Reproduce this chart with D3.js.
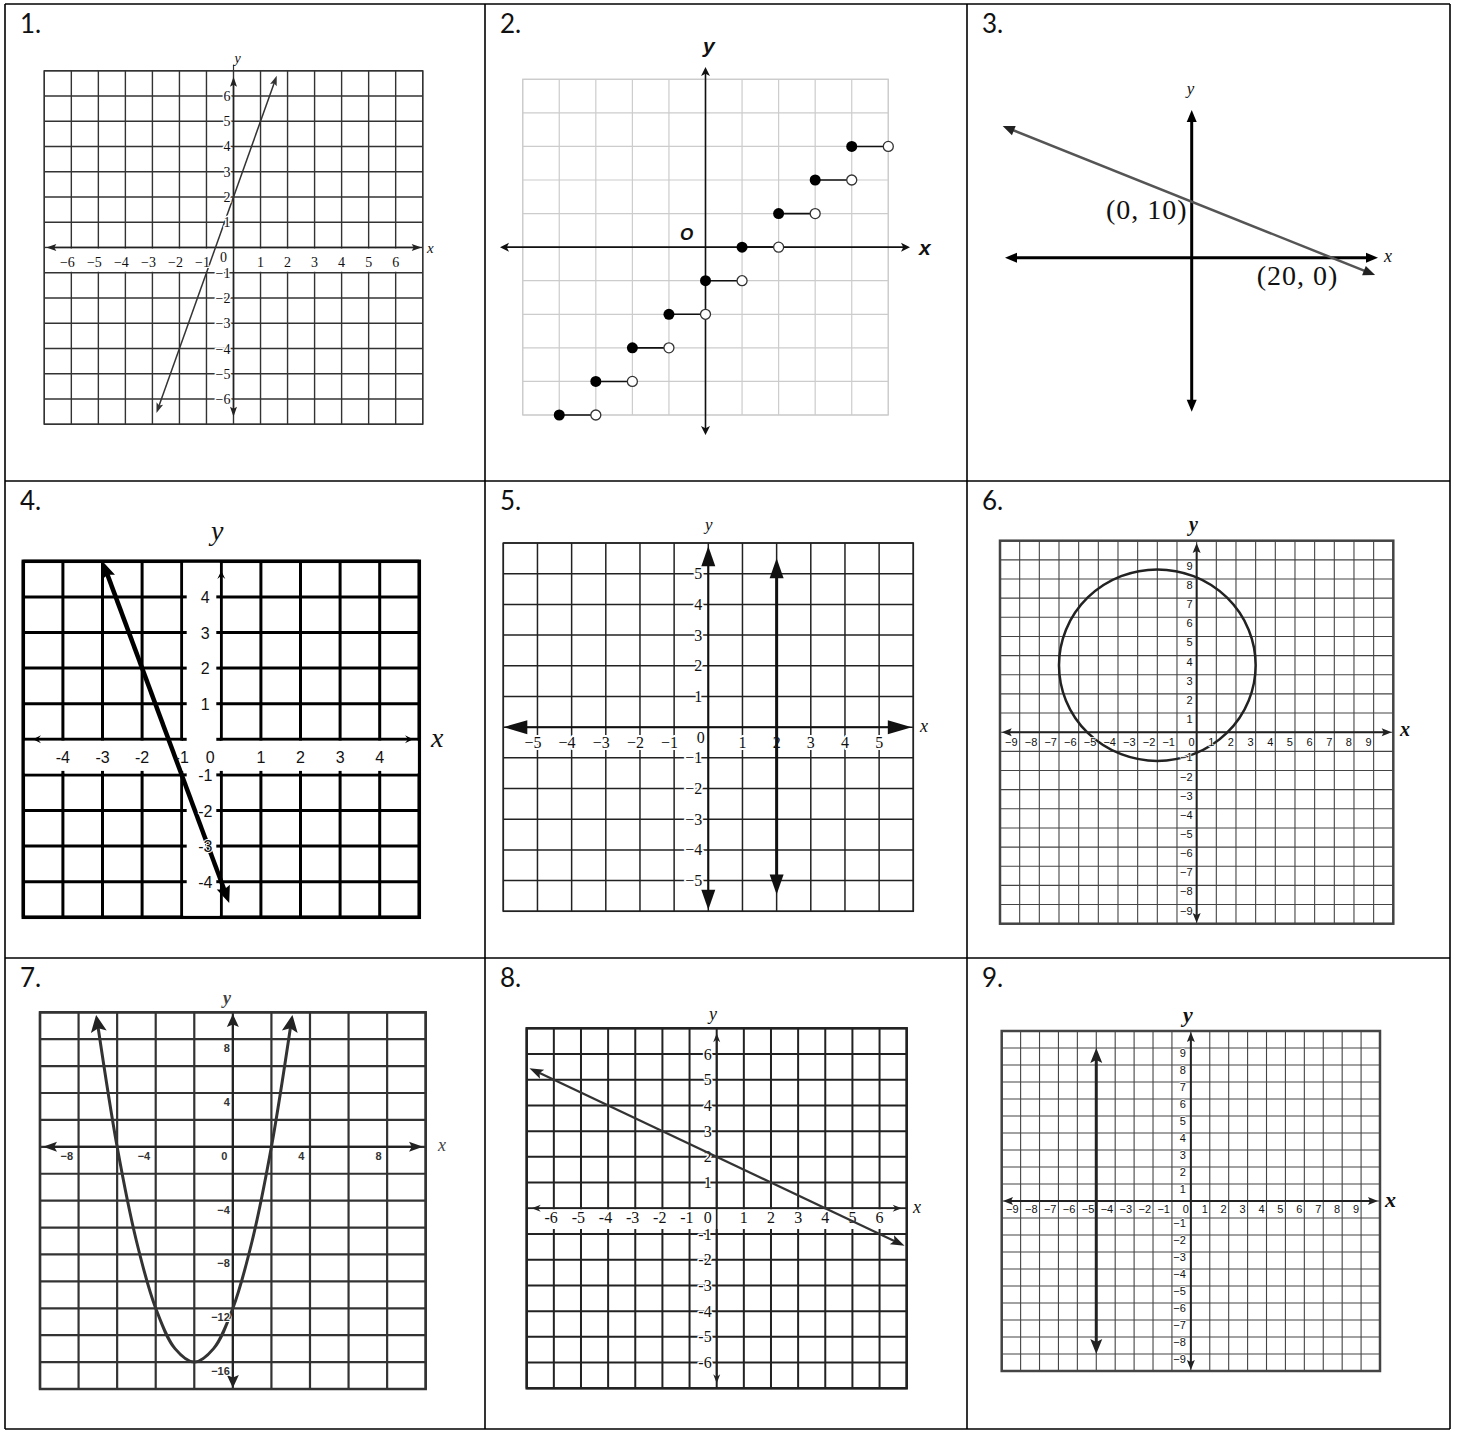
<!DOCTYPE html>
<html>
<head>
<meta charset="utf-8">
<script src="https://cdn.jsdelivr.net/npm/d3@7"></script>
<style>
  body { margin: 0; background: #fff; }
</style>
</head>
<body>
<div id="chart"></div>
<script>
// ---------- data read off the worksheet ----------
// 1. straight line y = 3x + 2
var p1XLabels = [-6, -5, -4, -3, -2, -1, 1, 2, 3, 4, 5, 6];
var p1YLabels = [6, 5, 4, 3, 2, 1, -1, -2, -3, -4, -5, -6];
var p1LineX = [-2.85, 1.6];
var p1LineY = [-6.55, 6.8];

// 2. step function: filled dot at the left, open dot at the right
var p2StepX = [-4, -3, -2, -1, 0, 1, 2, 3, 4];
var p2StepY = [-5, -4, -3, -2, -1, 0, 1, 2, 3];

// 3. line through the two intercepts
var p3LineX = [-27, 26.2];
var p3LineY = [23.5, -3.1];
var p3PointX = [0, 20];
var p3PointY = [10, 0];
var p3PointLabels = ["(0, 10)", "(20, 0)"];

// 4. steep line
var p4XLabels = [-4, -3, -2, -1, 1, 2, 3, 4];
var p4YLabels = [4, 3, 2, 1, -1, -2, -3, -4];
var p4LineX = [-3, 0.2];
var p4LineY = [5, -4.6];

// 5. vertical line x = 2
var p5XLabels = [-5, -4, -3, -2, -1, 1, 2, 3, 4, 5];
var p5YLabels = [5, 4, 3, 2, 1, -1, -2, -3, -4, -5];
var p5LineX = [2, 2];
var p5LineY = [5.5, -5.45];

// 6. circle
var p6XLabels = [-9, -8, -7, -6, -5, -4, -3, -2, -1, 0, 1, 2, 3, 4, 5, 6, 7, 8, 9];
var p6YLabels = [9, 8, 7, 6, 5, 4, 3, 2, 1, -1, -2, -3, -4, -5, -6, -7, -8, -9];
var p6Center = [-2, 3.5];
var p6Radius = [5];

// 7. parabola
var p7XLabels = [-8, -4, 0, 4, 8];
var p7YLabels = [8, 4, -4, -8, -12, -16];
var p7CurveX = [-7, -6, -5, -4, -3, -2, -1, 0, 1, 2, 3];
var p7CurveY = [9, 0, -7, -12, -15, -16, -15, -12, -7, 0, 9];

// 8. line y = -x/2 + 2
var p8XLabels = [-6, -5, -4, -3, -2, -1, 1, 2, 3, 4, 5, 6];
var p8YLabels = [6, 5, 4, 3, 2, 1, -1, -2, -3, -4, -5, -6];
var p8LineX = [-6.9, 6.92];
var p8LineY = [5.45, -1.46];

// 9. vertical line x = -5
var p9XLabels = [-9, -8, -7, -6, -5, -4, -3, -2, -1, 0, 1, 2, 3, 4, 5, 6, 7, 8, 9];
var p9YLabels = [9, 8, 7, 6, 5, 4, 3, 2, 1, -1, -2, -3, -4, -5, -6, -7, -8, -9];
var p9LineX = [-5, -5];
var p9LineY = [9, -9];

var panelNames = ["1.", "2.", "3.", "4.", "5.", "6.", "7.", "8.", "9."];

// ---------- page ----------
var width = 1457, height = 1432;
var serif = "'Liberation Serif','Times New Roman',serif";
var sans = "'Liberation Sans',Arial,sans-serif";
var minus = function(d) { return d < 0 ? "\u2212" + (-d) : String(d); };
var hyphen = function(d) { return String(d); };

var svg = d3.select("#chart").append("svg")
  .attr("width", width)
  .attr("height", height);

svg.append("rect").attr("width", width).attr("height", height).attr("fill", "#fff");

// table around the nine problems
var colX = [5, 485, 967, 1450];
var rowY = [4, 481, 958, 1429];
var table = svg.append("g").attr("stroke", "#000").attr("stroke-width", 1.6);
colX.forEach(function(cx) {
  table.append("line").attr("x1", cx).attr("x2", cx).attr("y1", rowY[0]).attr("y2", rowY[3]);
});
rowY.forEach(function(ry) {
  table.append("line").attr("x1", colX[0]).attr("x2", colX[3]).attr("y1", ry).attr("y2", ry);
});
svg.selectAll(".num")
  .data(panelNames)
  .enter()
  .append("text")
  .attr("class", "num")
  .attr("x", function(d, i) { return colX[i % 3] + 15; })
  .attr("y", function(d, i) { return rowY[Math.floor(i / 3)] + 29; })
  .attr("font-family", "Lato, 'Noto Sans', sans-serif")
  .attr("font-size", 26)
  .attr("fill", "#111")
  .text(function(d) { return d; });

// ---------- helpers ----------
function grid(g, x, y, step, color, w, borderW) {
  var xd = x.domain(), yd = y.domain();
  var ylo = Math.min(yd[0], yd[1]), yhi = Math.max(yd[0], yd[1]);
  var xs = d3.range(xd[0], xd[1] + step[0] / 2, step[0]);
  var ys = d3.range(ylo, yhi + step[1] / 2, step[1]);
  g.append("g").selectAll("line").data(xs).enter().append("line")
    .attr("x1", function(d) { return x(d); }).attr("x2", function(d) { return x(d); })
    .attr("y1", y(yd[0])).attr("y2", y(yd[1]))
    .attr("stroke", color).attr("stroke-width", w);
  g.append("g").selectAll("line").data(ys).enter().append("line")
    .attr("y1", function(d) { return y(d); }).attr("y2", function(d) { return y(d); })
    .attr("x1", x(xd[0])).attr("x2", x(xd[1]))
    .attr("stroke", color).attr("stroke-width", w);
  g.append("rect")
    .attr("x", x(xd[0])).attr("y", y(yd[0]))
    .attr("width", x(xd[1]) - x(xd[0])).attr("height", y(yd[1]) - y(yd[0]))
    .attr("fill", "none").attr("stroke", color).attr("stroke-width", borderW || w);
}

function head(g, tip, dir, len, hw, color, notch) {
  var L = Math.hypot(dir[0], dir[1]), ux = dir[0] / L, uy = dir[1] / L;
  var bx = tip[0] - ux * len, by = tip[1] - uy * len;
  var n = notch || 1;
  var pts = [tip, [bx - uy * hw, by + ux * hw], [tip[0] - ux * len * n, tip[1] - uy * len * n], [bx + uy * hw, by - ux * hw]];
  g.append("path")
    .attr("d", "M" + pts.map(function(p) { return p[0].toFixed(2) + "," + p[1].toFixed(2); }).join("L") + "Z")
    .attr("fill", color);
}

// path with an arrowhead at both ends; pts in pixels
function arrowPath(g, pts, o) {
  var n = pts.length;
  var d0 = [pts[0][0] - pts[1][0], pts[0][1] - pts[1][1]];
  var d1 = [pts[n - 1][0] - pts[n - 2][0], pts[n - 1][1] - pts[n - 2][1]];
  var ext = o.ext || 0;
  var u0 = d0.map(function(v) { return v / Math.hypot(d0[0], d0[1]); });
  var u1 = d1.map(function(v) { return v / Math.hypot(d1[0], d1[1]); });
  var tip0 = [pts[0][0] + u0[0] * ext, pts[0][1] + u0[1] * ext];
  var tip1 = [pts[n - 1][0] + u1[0] * ext, pts[n - 1][1] + u1[1] * ext];
  var linePts = pts.slice();
  if (!ext) {
    var cut = o.len * 0.6;
    linePts[0] = [pts[0][0] - u0[0] * cut, pts[0][1] - u0[1] * cut];
    linePts[n - 1] = [pts[n - 1][0] - u1[0] * cut, pts[n - 1][1] - u1[1] * cut];
  }
  g.append("path")
    .attr("d", d3.line().curve(o.curve || d3.curveLinear)(linePts))
    .attr("fill", "none")
    .attr("stroke", o.color)
    .attr("stroke-width", o.width);
  head(g, tip0, u0, o.len, o.hw, o.headColor || o.color, o.notch);
  head(g, tip1, u1, o.len, o.hw, o.headColor || o.color, o.notch);
}

function label(g, x, y, s, o) {
  var t = g.append("text").attr("x", x).attr("y", y).text(s)
    .attr("font-family", o.font)
    .attr("font-size", o.size)
    .attr("fill", o.fill || "#111")
    .attr("text-anchor", o.anchor || "start");
  if (o.italic) t.attr("font-style", "italic");
  if (o.bold) t.attr("font-weight", "bold");
  if (o.ls) t.attr("letter-spacing", o.ls);
  if (o.halo) {
    t.attr("stroke", "#fff").attr("stroke-width", o.halo)
      .attr("paint-order", "stroke").attr("stroke-linejoin", "round");
  }
  return t;
}

function whiteBand(g, x0, y0, x1, y1) {
  g.append("rect")
    .attr("x", Math.min(x0, x1)).attr("y", Math.min(y0, y1))
    .attr("width", Math.abs(x1 - x0)).attr("height", Math.abs(y1 - y0))
    .attr("fill", "#fff");
}

function pairs(xs, ys, x, y) {
  return xs.map(function(v, i) { return [x(v), y(ys[i])]; });
}

// ---------- 1 ----------
(function() {
  var g = svg.append("g");
  var x = d3.scaleLinear().domain([-7, 7]).range([44.3, 422.7]);
  var y = d3.scaleLinear().domain([7, -7]).range([70.7, 424.3]);
  grid(g, x, y, [1, 1], "#333", 1.4);
  whiteBand(g, x(-7) + 1, y(0) + 1, x(7) - 1, y(-1) - 1);
  arrowPath(g, [[x(-7) + 2, y(0)], [x(7) - 1, y(0)]], { color: "#222", width: 1.5, len: 10, hw: 3.5, notch: 0.8 });
  arrowPath(g, [[x(0), y(7) + 6], [x(0), y(-7) - 7.5]], { color: "#222", width: 1.5, len: 10, hw: 3.5, notch: 0.8 });
  g.append("line").attr("x1", x(0)).attr("x2", x(0)).attr("y1", y(7) - 6).attr("y2", y(7)).attr("stroke", "#333").attr("stroke-width", 1.2);
  arrowPath(g, pairs(p1LineX, p1LineY, x, y), { color: "#333", width: 1.5, len: 10, hw: 3.5, notch: 0.8 });
  p1XLabels.forEach(function(d) {
    label(g, x(d) + 3.5, y(0) + 19, minus(d), { font: serif, size: 14, anchor: "end", halo: 2 });
  });
  p1YLabels.forEach(function(d) {
    label(g, x(0) - 3, y(d) + 5, minus(d), { font: serif, size: 14, anchor: "end", halo: 3 });
  });
  label(g, x(0) - 6.5, y(0) + 14, "0", { font: serif, size: 14, anchor: "end", halo: 2 });
  label(g, x(0) + 1, 63, "y", { font: serif, size: 14, italic: true });
  label(g, 427, y(0) + 5, "x", { font: serif, size: 15, italic: true });
})();

// ---------- 2 ----------
(function() {
  var g = svg.append("g");
  var x = d3.scaleLinear().domain([-5, 5]).range([522.7, 888.3]);
  var y = d3.scaleLinear().domain([5, -5]).range([79.3, 415]);
  grid(g, x, y, [1, 1], "#cccccc", 1.2);
  arrowPath(g, [[500, y(0)], [910, y(0)]], { color: "#111", width: 1.6, len: 9, hw: 4.5, notch: 0.75 });
  arrowPath(g, [[x(0), 67], [x(0), 435]], { color: "#111", width: 1.6, len: 9, hw: 4.5, notch: 0.75 });
  label(g, 703, 53, "y", { font: sans, size: 21, bold: true, italic: true });
  label(g, 919, 255, "x", { font: sans, size: 21, bold: true, italic: true });
  label(g, 680, 240, "O", { font: sans, size: 17, bold: true, italic: true });
  var steps = g.append("g");
  steps.selectAll("line").data(p2StepX).enter().append("line")
    .attr("x1", function(d) { return x(d); })
    .attr("x2", function(d) { return x(d + 1); })
    .attr("y1", function(d, i) { return y(p2StepY[i]); })
    .attr("y2", function(d, i) { return y(p2StepY[i]); })
    .attr("stroke", "#111").attr("stroke-width", 1.6);
  steps.selectAll(".open").data(p2StepX).enter().append("circle")
    .attr("class", "open")
    .attr("cx", function(d) { return x(d + 1); })
    .attr("cy", function(d, i) { return y(p2StepY[i]); })
    .attr("r", 5).attr("fill", "#fff").attr("stroke", "#333").attr("stroke-width", 1.3);
  steps.selectAll(".closed").data(p2StepX).enter().append("circle")
    .attr("class", "closed")
    .attr("cx", function(d) { return x(d); })
    .attr("cy", function(d, i) { return y(p2StepY[i]); })
    .attr("r", 5.5).attr("fill", "#000");
})();

// ---------- 3 ----------
(function() {
  var g = svg.append("g");
  var x = d3.scaleLinear().domain([-27, 27]).range([1002.7, 1380.7]);
  var y = d3.scaleLinear().domain([27, -27]).range([106.5, 408.9]);
  arrowPath(g, [[1005, y(0)], [1378, y(0)]], { color: "#000", width: 3, len: 12, hw: 5 });
  arrowPath(g, [[x(0), 110], [x(0), 411.7]], { color: "#000", width: 3, len: 12, hw: 5 });
  arrowPath(g, pairs(p3LineX, p3LineY, x, y), { color: "#555", width: 2.5, len: 12, hw: 5, headColor: "#222" });
  label(g, x(p3PointX[0]) - 4, y(p3PointY[0]) + 17, p3PointLabels[0], { font: serif, size: 28, anchor: "end", ls: 1 });
  label(g, x(p3PointX[1]) - 75, y(p3PointY[1]) + 27, p3PointLabels[1], { font: serif, size: 28, anchor: "start", ls: 1 });
  label(g, x(0) - 5, 94, "y", { font: serif, size: 17, italic: true });
  label(g, 1384, 262, "x", { font: serif, size: 18, italic: true });
})();

// ---------- 4 ----------
(function() {
  var g = svg.append("g");
  var x = d3.scaleLinear().domain([-5, 5]).range([23.3, 419.3]);
  var y = d3.scaleLinear().domain([5, -5]).range([561.3, 917.3]);
  grid(g, x, y, [1, 1], "#000", 3, 3.5);
  whiteBand(g, x(-5) + 1.5, y(0) + 1.5, x(5) - 1.5, y(-1) - 1.5);
  whiteBand(g, x(-1) + 1.5, y(5) + 1.5, x(0) - 1.5, y(-5) - 1.5);
  var ticks = g.append("g").attr("stroke", "#000").attr("stroke-width", 3);
  d3.range(-4, 5).forEach(function(v) {
    ticks.append("line").attr("x1", x(v)).attr("x2", x(v)).attr("y1", y(-1)).attr("y2", y(-1) - 4);
  });
  d3.range(-4, 5).forEach(function(v) {
    ticks.append("line").attr("x1", x(-1)).attr("x2", x(-1) + 5).attr("y1", y(v)).attr("y2", y(v));
    ticks.append("line").attr("x1", x(0)).attr("x2", x(0) - 5).attr("y1", y(v)).attr("y2", y(v));
  });
  head(g, [33, y(0)], [-1, 0], 8, 4, "#000", 0.6);
  head(g, [413, y(0)], [1, 0], 8, 4, "#000", 0.6);
  head(g, [x(0), 571], [0, -1], 8, 4, "#000", 0.6);
  arrowPath(g, pairs(p4LineX, p4LineY, x, y), { color: "#000", width: 4.5, len: 17, hw: 7, notch: 0.85 });
  p4XLabels.forEach(function(d) {
    label(g, x(d), y(0) + 24, hyphen(d), { font: sans, size: 16, anchor: "middle" });
  });
  label(g, x(0) - 11, y(0) + 24, "0", { font: sans, size: 16, anchor: "middle" });
  p4YLabels.forEach(function(d) {
    label(g, x(0) - 16, y(d) + 6, hyphen(d), { font: sans, size: 16, anchor: "middle", halo: 2 });
  });
  label(g, 431, 747, "x", { font: serif, size: 28, italic: true });
  label(g, 211, 540, "y", { font: serif, size: 28, italic: true });
})();

// ---------- 5 ----------
(function() {
  var g = svg.append("g");
  var x = d3.scaleLinear().domain([-6, 6]).range([503.3, 913.3]);
  var y = d3.scaleLinear().domain([6, -6]).range([543, 911.3]);
  grid(g, x, y, [1, 1], "#222", 1.5);
  p5XLabels.forEach(function(d) {
    label(g, x(d) + 4, y(0) + 21, minus(d), { font: serif, size: 16, anchor: "end", halo: 4 });
  });
  p5YLabels.forEach(function(d) {
    label(g, x(0) - 6, y(d) + 5.5, minus(d), { font: serif, size: 16, anchor: "end", halo: 4 });
  });
  label(g, x(0) - 3.5, y(0) + 16, "0", { font: serif, size: 16, anchor: "end", halo: 4 });
  arrowPath(g, [[x(-6), y(0)], [x(6) - 1.5, y(0)]], { color: "#111", width: 2, len: 24, hw: 7 });
  arrowPath(g, [[x(0), y(6) + 3.3], [x(0), y(-6) - 1.6]], { color: "#111", width: 2, len: 20, hw: 7 });
  arrowPath(g, pairs(p5LineX, p5LineY, x, y), { color: "#111", width: 3, len: 20, hw: 7 });
  label(g, 705, 530, "y", { font: serif, size: 17, italic: true });
  label(g, 920, 732, "x", { font: serif, size: 18, italic: true });
})();

// ---------- 6 ----------
(function() {
  var g = svg.append("g");
  var x = d3.scaleLinear().domain([-10, 10]).range([1000, 1393.3]);
  var y = d3.scaleLinear().domain([10, -10]).range([540.7, 923.7]);
  grid(g, x, y, [1, 1], "#444", 1.1, 2.5);
  arrowPath(g, [[1001.7, y(0)], [1391.7, y(0)]], { color: "#222", width: 2, len: 10, hw: 4, notch: 0.8 });
  arrowPath(g, [[x(0), 543], [x(0), 923]], { color: "#222", width: 2, len: 10, hw: 4, notch: 0.8 });
  g.append("ellipse")
    .attr("cx", x(p6Center[0])).attr("cy", y(p6Center[1]))
    .attr("rx", x(p6Radius[0]) - x(0)).attr("ry", y(0) - y(p6Radius[0]))
    .attr("fill", "none").attr("stroke", "#222").attr("stroke-width", 2.5);
  p6XLabels.forEach(function(d) {
    label(g, x(d) - 2, y(0) + 13.5, minus(d), { font: sans, size: 11, anchor: "end", halo: 1.5 });
  });
  p6YLabels.forEach(function(d) {
    label(g, x(0) - 4, y(d) + 10, minus(d), { font: sans, size: 11, anchor: "end", halo: 1.5 });
  });
  label(g, 1189, 531, "y", { font: serif, size: 20, italic: true, bold: true });
  label(g, 1400, 736, "x", { font: serif, size: 20, italic: true, bold: true });
})();

// ---------- 7 ----------
(function() {
  var g = svg.append("g");
  var x = d3.scaleLinear().domain([-10, 10]).range([40, 425.7]);
  var y = d3.scaleLinear().domain([10, -18]).range([1012.3, 1389]);
  grid(g, x, y, [2, 2], "#333", 2.2, 2.5);
  arrowPath(g, [[43, y(0)], [423, y(0)]], { color: "#222", width: 2, len: 14, hw: 5, notch: 0.8 });
  arrowPath(g, [[x(0), 1014], [x(0), 1388]], { color: "#222", width: 2, len: 13, hw: 6, notch: 0.8 });
  arrowPath(g, pairs(p7CurveX, p7CurveY, x, y), {
    color: "#333", width: 3, len: 17, hw: 8, notch: 0.8, ext: 11, headColor: "#222",
    curve: d3.curveCatmullRom.alpha(0.5)
  });
  p7XLabels.forEach(function(d) {
    label(g, x(d) - 5.5, y(0) + 13.5, minus(d), { font: sans, size: 11, bold: true, anchor: "end", fill: "#333" });
  });
  p7YLabels.forEach(function(d) {
    label(g, x(0) - 3, y(d) + 13, minus(d), { font: sans, size: 11, bold: true, anchor: "end", fill: "#333", halo: 2 });
  });
  label(g, 223, 1004, "y", { font: serif, size: 18, italic: true, bold: true, fill: "#444" });
  label(g, 438, 1151, "x", { font: serif, size: 18, italic: true, fill: "#444" });
})();

// ---------- 8 ----------
(function() {
  var g = svg.append("g");
  var x = d3.scaleLinear().domain([-7, 7]).range([526.7, 906.7]);
  var y = d3.scaleLinear().domain([7, -7]).range([1028.3, 1388.3]);
  grid(g, x, y, [1, 1], "#222", 2, 2.5);
  whiteBand(g, x(-7) + 1.5, y(0) + 1, x(7) - 1.5, y(-1) - 1);
  var ticks = g.append("g").attr("stroke", "#222").attr("stroke-width", 2);
  d3.range(-6, 7).forEach(function(v) {
    ticks.append("line").attr("x1", x(v)).attr("x2", x(v)).attr("y1", y(-1)).attr("y2", y(-1) - 5);
  });
  arrowPath(g, [[531.7, y(0)], [901.7, y(0)]], { color: "#222", width: 1.5, len: 9, hw: 3.5, notch: 0.7 });
  arrowPath(g, [[x(0), 1033.3], [x(0), 1383.3]], { color: "#222", width: 1.8, len: 9, hw: 3.5, notch: 0.7 });
  p8XLabels.forEach(function(d) {
    label(g, x(d) + 4, y(0) + 15, hyphen(d), { font: serif, size: 16, anchor: "end", halo: 2 });
  });
  label(g, x(0) - 5, y(0) + 15, "0", { font: serif, size: 16, anchor: "end", halo: 2 });
  p8YLabels.forEach(function(d) {
    label(g, x(0) - 5, y(d) + 5.5, hyphen(d), { font: serif, size: 16, anchor: "end", halo: 3 });
  });
  arrowPath(g, pairs(p8LineX, p8LineY, x, y), { color: "#333", width: 2.2, len: 14, hw: 5, notch: 0.8, headColor: "#222" });
  label(g, 709, 1020, "y", { font: serif, size: 18, italic: true });
  label(g, 913, 1213, "x", { font: serif, size: 18, italic: true });
})();

// ---------- 9 ----------
(function() {
  var g = svg.append("g");
  var x = d3.scaleLinear().domain([-10, 10]).range([1001.7, 1380]);
  var y = d3.scaleLinear().domain([10, -10]).range([1031, 1371]);
  grid(g, x, y, [1, 1], "#444", 1.1, 2.5);
  arrowPath(g, [[1003, y(0)], [1378, y(0)]], { color: "#222", width: 2, len: 10, hw: 4, notch: 0.8 });
  arrowPath(g, [[x(0), 1032], [x(0), 1370]], { color: "#222", width: 2, len: 10, hw: 4, notch: 0.8 });
  p9XLabels.forEach(function(d) {
    label(g, x(d) - 2, y(0) + 11.5, minus(d), { font: sans, size: 11, anchor: "end", halo: 1.5 });
  });
  p9YLabels.forEach(function(d) {
    label(g, x(0) - 5, y(d) + 9, minus(d), { font: sans, size: 11, anchor: "end", halo: 1.5 });
  });
  arrowPath(g, pairs(p9LineX, p9LineY, x, y), { color: "#222", width: 3, len: 15, hw: 6, notch: 0.8 });
  label(g, 1183, 1022, "y", { font: serif, size: 22, italic: true, bold: true });
  label(g, 1385, 1207, "x", { font: serif, size: 22, italic: true, bold: true });
})();
</script>
</body>
</html>
